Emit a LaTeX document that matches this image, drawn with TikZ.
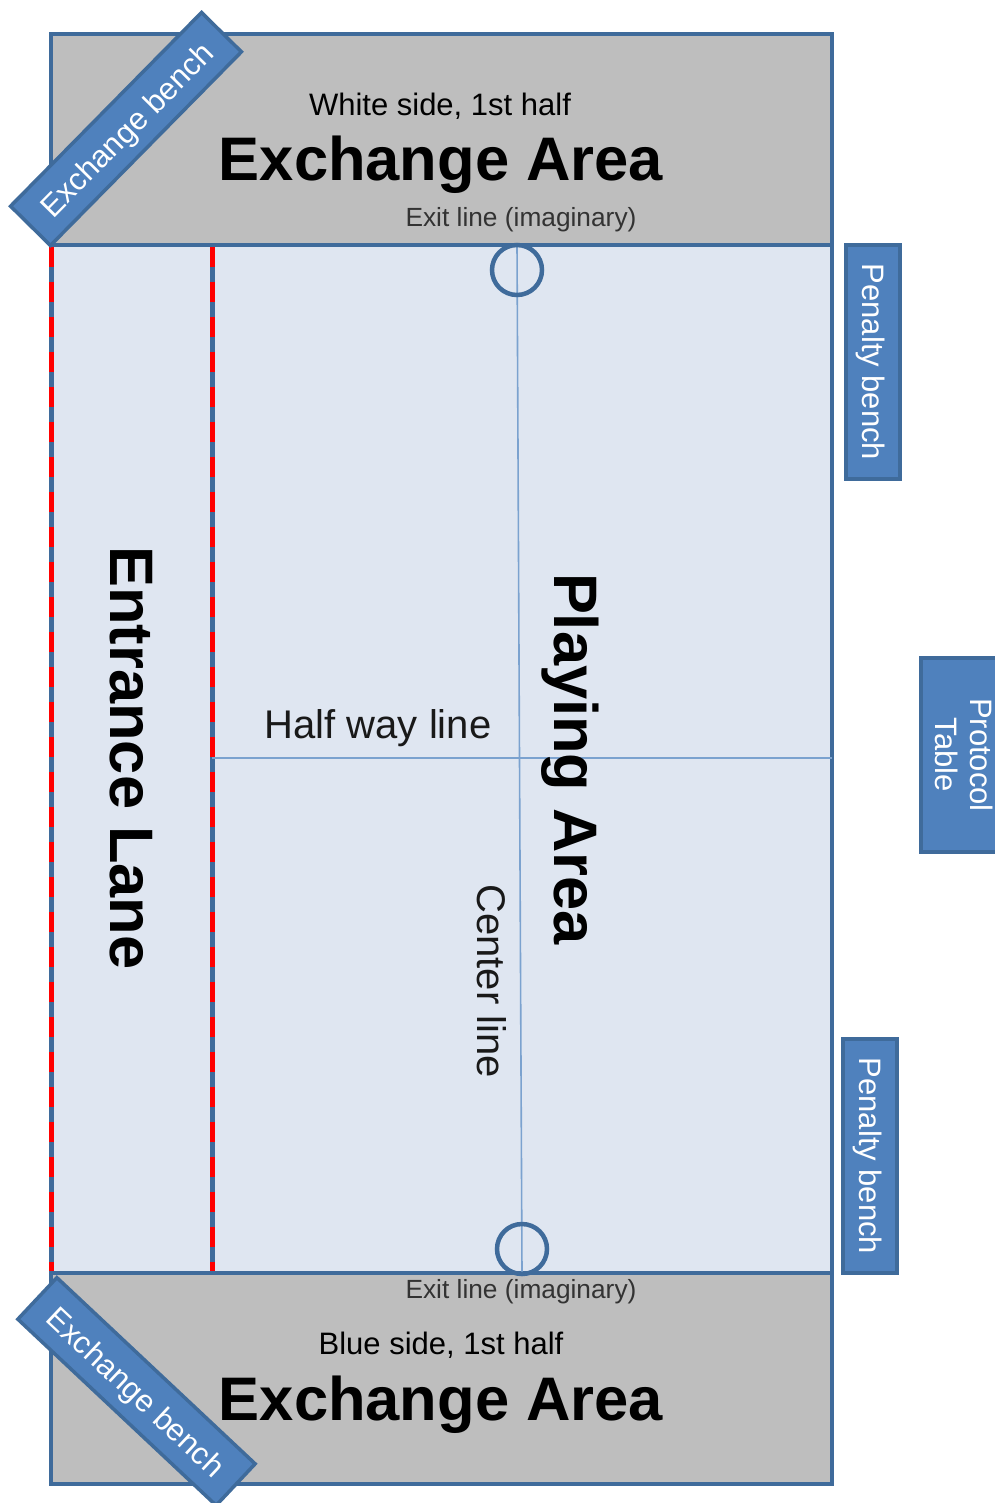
\documentclass[tikz,border=0pt]{standalone}
\usepackage{fontspec}
\setmainfont{Liberation Sans}
\definecolor{edgeblue}{HTML}{3F6B9B}
\definecolor{boxblue}{HTML}{4F81BD}
\definecolor{fieldblue}{HTML}{DFE6F1}
\definecolor{areagray}{HTML}{BEBEBE}
\definecolor{thinblue}{HTML}{7BA2CF}
\newcommand{\fsz}[1]{\fontsize{#1}{#1}\selectfont}
\newcommand{\lowtext}[2]{\raisebox{-#1pt}[\height][\depth]{#2}}
\tikzset{
  area/.style={draw=edgeblue,line width=4.5pt,fill=#1,rectangle,inner sep=0pt,outer sep=0pt,anchor=north west},
  bench/.style={draw=edgeblue,line width=3.5pt,fill=boxblue,text=white,rectangle,inner sep=0pt,outer sep=0pt,align=center,font=\fsz{31}},
  lanedash/.style={draw=red,line width=5pt,dash pattern=on 20pt off 15pt},
  laneline/.style={draw=edgeblue,line width=5pt},
  thinline/.style={draw=thinblue,line width=1.6pt},
  ring/.style={circle,draw=edgeblue,line width=4.5pt,minimum size=50pt,inner sep=0pt,outer sep=0pt},
  bigt/.style={font=\bfseries\fsz{61.5},inner sep=0pt,text=black},
  midt/.style={font=\fsz{31},inner sep=0pt,text=black},
  smallt/.style={font=\fsz{26.3},inner sep=0pt,text=black!80},
  lanet/.style={font=\bfseries\fsz{61.4},inner sep=0pt,text=black},
  halft/.style={font=\fsz{40},inner sep=0pt,text=black!90}
}
\begin{document}
\begin{tikzpicture}[x=1pt,y=-1pt]
\useasboundingbox (0,0) rectangle (994,1503);
\fill[white] (0,0) rectangle (994,1503);
% field and areas
\node[area=fieldblue,minimum width=781pt,minimum height=1450pt] (field) at (51,34) {};
\node[area=areagray,minimum width=781pt,minimum height=211pt] (topArea) at (51,34) {};
\node[area=areagray,minimum width=781pt,minimum height=211pt] (botArea) at (51,1273) {};
% coordinates for lines
\coordinate (laneAtop) at (51.5,247); \coordinate (laneAbot) at (51.5,1271);
\coordinate (laneBtop) at (212.5,247); \coordinate (laneBbot) at (212.5,1271);
\coordinate (cTop) at (517,245); \coordinate (cBot) at (522,1273);
\coordinate (hL) at (212,758); \coordinate (hR) at (832,758);
\draw[laneline] (laneAtop) -- (laneAbot);
\draw[laneline] (laneBtop) -- (laneBbot);
\draw[lanedash] (laneAtop) -- (laneAbot);
\draw[lanedash] (laneBtop) -- (laneBbot);
\draw[thinline] (cTop) -- (cBot);
\draw[thinline] (hL) -- (hR);
\node[ring] (ringT) at (517,270) {};
\node[ring] (ringB) at (522,1249) {};
% benches
\node[bench,minimum width=272pt,minimum height=56pt,rotate=45.4] (benchTL) at (126,129) {\lowtext{4}{Exchange bench}};
\node[bench,minimum width=272pt,minimum height=57pt,rotate=-43.2] (benchBL) at (136.5,1391.5) {\lowtext{3.5}{Exchange bench}};
\node[bench,minimum width=234pt,minimum height=54pt,rotate=-90] (penT) at (873,362) {\lowtext{2}{Penalty bench}};
\node[bench,minimum width=234pt,minimum height=54pt,rotate=-90] (penB) at (870,1156) {\lowtext{2}{Penalty bench}};
\node[bench,minimum width=194pt,minimum height=86pt,rotate=-90] (proto) at (964,755) {Protocol\\[4pt]Table};
% texts
\node[midt] (t1) at (440,106) {White side, 1st half};
\node[bigt] (t2) at (441,165) {Exchange Area};
\node[smallt] (t3) at (521,220) {Exit line (imaginary)};
\node[smallt] (t4) at (521,1292) {Exit line (imaginary)};
\node[midt] (t5) at (441,1345) {Blue side, 1st half};
\node[bigt] (t6) at (441,1405) {Exchange Area};
\node[lanet,rotate=-90] (t7) at (131,758) {Entrance Lane};
\node[lanet,rotate=-90] (t8) at (570,759) {Playing Area};
\node[halft] (t9) at (378,728) {Half way line};
\node[halft,rotate=-90] (t10) at (492,981) {Center line};
\end{tikzpicture}
\end{document}
